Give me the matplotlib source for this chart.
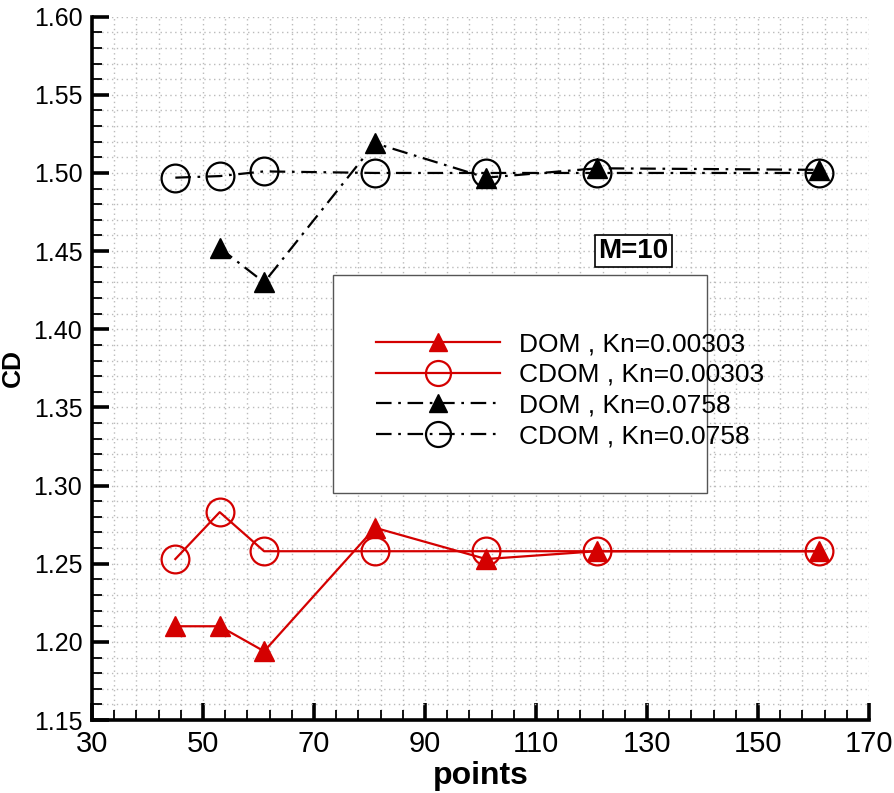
import numpy as np
import matplotlib
matplotlib.use("Agg")
import matplotlib.pyplot as plt
from matplotlib.patches import Rectangle
from matplotlib.ticker import MultipleLocator, FormatStrFormatter

plt.rcParams['font.family'] = ['Liberation Sans', 'DejaVu Sans']

# data
pts = [45, 53, 61, 81, 101, 121, 161]
dom_kn1 = [1.210, 1.210, 1.194, 1.273, 1.253, 1.258, 1.258]
cdom_kn1 = [1.253, 1.283, 1.258, 1.258, 1.258, 1.258, 1.258]
pts_dom2 = [53, 61, 81, 101, 121, 161]
dom_kn2 = [1.452, 1.430, 1.519, 1.497, 1.503, 1.502]
cdom_kn2 = [1.497, 1.498, 1.501, 1.500, 1.500, 1.500, 1.500]

labels = ["DOM , Kn=0.00303", "CDOM , Kn=0.00303", "DOM , Kn=0.0758", "CDOM , Kn=0.0758"]

fig = plt.figure(figsize=(8.94, 7.93), dpi=100)
ax = fig.add_axes([0.103, 0.092, 0.869, 0.887])

red = '#d40000'
dashdot = (0, (7, 3, 1.2, 3))

l1, = ax.plot(pts, dom_kn1, color=red, lw=1.6, marker='^', ms=15, mfc=red, mec=red, zorder=5)
l2, = ax.plot(pts, cdom_kn1, color=red, lw=1.6, marker='o', ms=20, mfc='none', mec=red, mew=1.6, zorder=5)
l3, = ax.plot(pts_dom2, dom_kn2, color='black', lw=1.6, ls=dashdot, marker='^', ms=15, mfc='black', mec='black', zorder=5)
l4, = ax.plot(pts, cdom_kn2, color='black', lw=1.6, ls=dashdot, marker='o', ms=20, mfc='none', mec='black', mew=1.6, zorder=5)

ax.set_xlim(30, 170)
ax.set_ylim(1.15, 1.60)
ax.xaxis.set_major_locator(MultipleLocator(20, offset=10))
ax.xaxis.set_minor_locator(MultipleLocator(4, offset=2))
ax.yaxis.set_major_locator(MultipleLocator(0.05))
ax.yaxis.set_minor_locator(MultipleLocator(0.01))
ax.yaxis.set_major_formatter(FormatStrFormatter('%.2f'))

ax.grid(which='both', color='#bbbbbb', ls=(0, (1, 2.5)), lw=1.0)
ax.set_axisbelow(True)

for s in ['top', 'right']:
    ax.spines[s].set_visible(False)
for s in ['left', 'bottom']:
    ax.spines[s].set_linewidth(2.6)

ax.tick_params(which='major', direction='in', length=12, width=2.6, pad=7)
ax.tick_params(which='minor', direction='in', length=7, width=1.3)
for t in ax.get_xticklabels():
    t.set_family(['Liberation Sans Narrow', 'Liberation Sans'])
    t.set_fontsize(21)
for t in ax.get_yticklabels():
    t.set_fontsize(18)

ax.set_xlabel('points', fontsize=23, fontweight='bold', labelpad=2)
ax.set_ylabel('CD', fontsize=19, fontweight='bold', labelpad=6)

# legend box
ax.add_patch(Rectangle((0.310, 0.323), 0.4815, 0.310, transform=ax.transAxes,
                       facecolor='white', edgecolor='#555555', lw=1.0, zorder=6))
leg = ax.legend([l1, l2, l3, l4], labels, loc='center', bbox_to_anchor=(0.615, 0.469),
                frameon=False, fontsize=19, handlelength=4.7, handletextpad=0.7,
                labelspacing=0.25, markerscale=0.9)
leg.set_zorder(7)

ax.text(0.697, 0.667, 'M=10', transform=ax.transAxes, fontsize=20, fontweight='bold',
        ha='center', va='center', zorder=7,
        bbox=dict(boxstyle='square,pad=0.12', fc='white', ec='black', lw=1.2))

fig.savefig('out.png', dpi=100)
